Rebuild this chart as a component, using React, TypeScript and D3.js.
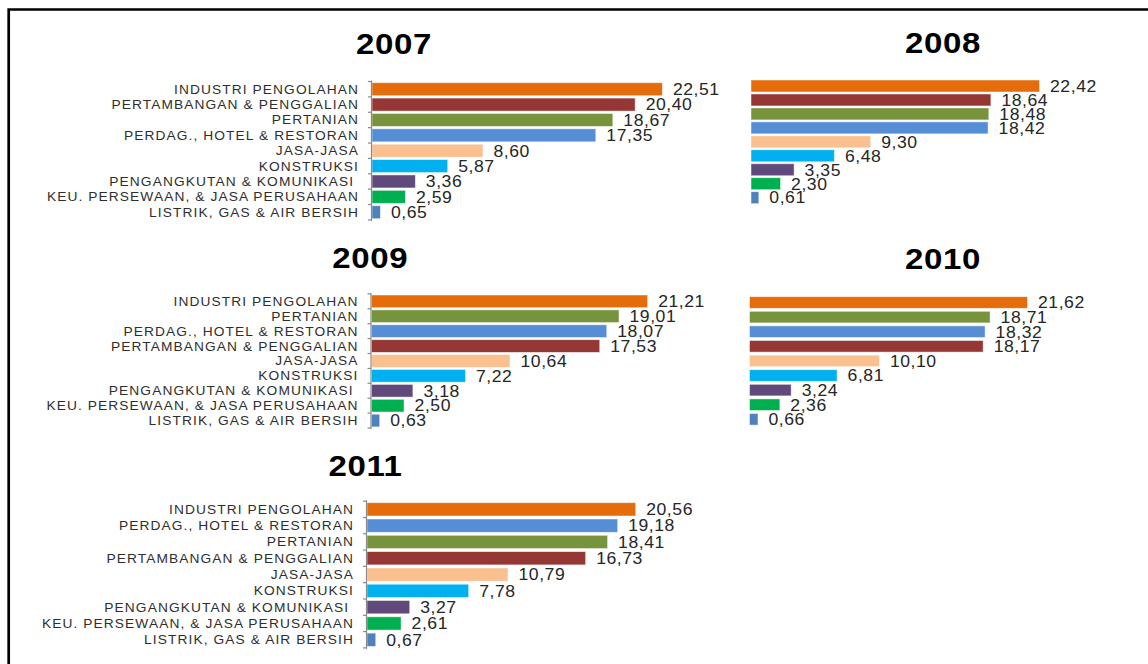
import React from "react";
import * as d3 from "d3";

// ---- Data ----
const IND = "INDUSTRI PENGOLAHAN";
const TAMBANG = "PERTAMBANGAN & PENGGALIAN";
const TANI = "PERTANIAN";
const DAGANG = "PERDAG., HOTEL & RESTORAN";
const JASA = "JASA-JASA";
const KONS = "KONSTRUKSI";
const ANGKUT = "PENGANGKUTAN & KOMUNIKASI ";
const KEU = "KEU. PERSEWAAN, & JASA PERUSAHAAN";
const LISTRIK = "LISTRIK, GAS & AIR BERSIH";

const sectorNames = [IND, TAMBANG, TANI, DAGANG, JASA, KONS, ANGKUT, KEU, LISTRIK];
const sectorColors = ["#E46C0A", "#953735", "#77933C", "#558ED5", "#FAC090", "#00B0F0", "#604A7B", "#00B050", "#4F81BD"];

const years = ["2007", "2008", "2009", "2010", "2011"];

const order2007 = [IND, TAMBANG, TANI, DAGANG, JASA, KONS, ANGKUT, KEU, LISTRIK];
const values2007 = [22.51, 20.40, 18.67, 17.35, 8.60, 5.87, 3.36, 2.59, 0.65];

const order2008 = [IND, TAMBANG, TANI, DAGANG, JASA, KONS, ANGKUT, KEU, LISTRIK];
const values2008 = [22.42, 18.64, 18.48, 18.42, 9.30, 6.48, 3.35, 2.30, 0.61];

const order2009 = [IND, TANI, DAGANG, TAMBANG, JASA, KONS, ANGKUT, KEU, LISTRIK];
const values2009 = [21.21, 19.01, 18.07, 17.53, 10.64, 7.22, 3.18, 2.50, 0.63];

const order2010 = [IND, TANI, DAGANG, TAMBANG, JASA, KONS, ANGKUT, KEU, LISTRIK];
const values2010 = [21.62, 18.71, 18.32, 18.17, 10.10, 6.81, 3.24, 2.36, 0.66];

const order2011 = [IND, DAGANG, TANI, TAMBANG, JASA, KONS, ANGKUT, KEU, LISTRIK];
const values2011 = [20.56, 19.18, 18.41, 16.73, 10.79, 7.78, 3.27, 2.61, 0.67];

const orders = [order2007, order2008, order2009, order2010, order2011];
const valuesByYear = [values2007, values2008, values2009, values2010, values2011];

// ---- Layout (positions only) ----
const layouts = [
  { x0: 372, firstTop: 82.7, pitch: 15.375, barH: 13, ppu: 12.9, titleX: 394, titleY: 54, labels: true },
  { x0: 751, firstTop: 80, pitch: 13.96, barH: 12, ppu: 12.87, titleX: 943, titleY: 52.7, labels: false },
  { x0: 371.5, firstTop: 295, pitch: 14.9, barH: 12.7, ppu: 13.02, titleX: 370.3, titleY: 268.3, labels: true },
  { x0: 749.5, firstTop: 296.7, pitch: 14.6, barH: 11.6, ppu: 12.86, titleX: 943, titleY: 269.3, labels: false },
  { x0: 367, firstTop: 502.7, pitch: 16.3, barH: 13.3, ppu: 13.07, titleX: 365.5, titleY: 476, labels: true },
];

const FONT = "'Liberation Sans', Arial, Helvetica, sans-serif";
const colorScale = d3.scaleOrdinal<string, string>().domain(sectorNames).range(sectorColors);
const fmt = (v: number) => d3.format(".2f")(v).replace(".", ",");

function Panel({ idx }: { idx: number }) {
  const L = layouts[idx];
  const cats = orders[idx];
  const vals = valuesByYear[idx];
  const p = (L.pitch - L.barH) / L.pitch;
  const yTop = L.firstTop - (L.pitch * p) / 2;
  const y = d3
    .scaleBand<string>()
    .domain(cats)
    .range([yTop, yTop + L.pitch * cats.length])
    .paddingInner(p)
    .paddingOuter(p / 2);
  const x = d3.scaleLinear().domain([0, 25]).range([L.x0, L.x0 + 25 * L.ppu]);
  const [r0, r1] = y.range();
  const ticks = d3.range(cats.length + 1).map((i) => r0 + i * y.step());

  return (
    <g>
      <text
        transform={`translate(${L.titleX},${L.titleY}) scale(1.1,1)`}
        textAnchor="middle"
        fontFamily={FONT}
        fontWeight="bold"
        fontSize={30}
        letterSpacing={0.6}
        fill="#000"
      >
        {years[idx]}
      </text>
      {cats.map((c, i) => (
        <rect
          key={c}
          x={x(0)}
          y={y(c)!}
          width={x(vals[i]) - x(0)}
          height={y.bandwidth()}
          fill={colorScale(c)}
          stroke="#ffffff"
          strokeOpacity={0.6}
          strokeWidth={0.8}
        />
      ))}
      {cats.map((c, i) => (
        <text
          key={"v" + c}
          transform={`translate(${x(vals[i]) + 10.5},${y(c)! + y.bandwidth() / 2 + 5.8}) scale(1.1,1)`}
          fontFamily={FONT}
          fontSize={16}
          letterSpacing={0.5}
          fill="#262626"
        >
          {fmt(vals[i])}
        </text>
      ))}
      {L.labels && (
        <g>
          <line x1={L.x0 - 0.5} x2={L.x0 - 0.5} y1={r0 - 1} y2={r1 + 1} stroke="#8a8a8a" strokeWidth={1.2} />
          {ticks.map((t, i) => (
            <line key={"t" + i} x1={L.x0 - 4} x2={L.x0 - 0.5} y1={t} y2={t} stroke="#8a8a8a" strokeWidth={1.2} />
          ))}
          {cats.map((c) => (
            <text
              key={"l" + c}
              transform={`translate(${L.x0 - 13},${y(c)! + y.bandwidth() / 2 + 4.5}) scale(1.1,1)`}
              textAnchor="end"
              fontFamily={FONT}
              fontSize={12.5}
              letterSpacing={1.0}
              fill="#2e2e2e"
              style={{ whiteSpace: "pre" }}
            >
              {c}
            </text>
          ))}
        </g>
      )}
    </g>
  );
}

export default function App() {
  return (
    <svg
      width={1148}
      height={664}
      style={{ position: "absolute", left: 0, top: 0, background: "#fff" }}
    >
      <rect x={0} y={0} width={1148} height={664} fill="#fff" />
      <path d="M 8.7 664 V 9.5 H 1148" fill="none" stroke="#000" strokeWidth={2.7} />
      {layouts.map((_, i) => (
        <Panel key={i} idx={i} />
      ))}
    </svg>
  );
}
